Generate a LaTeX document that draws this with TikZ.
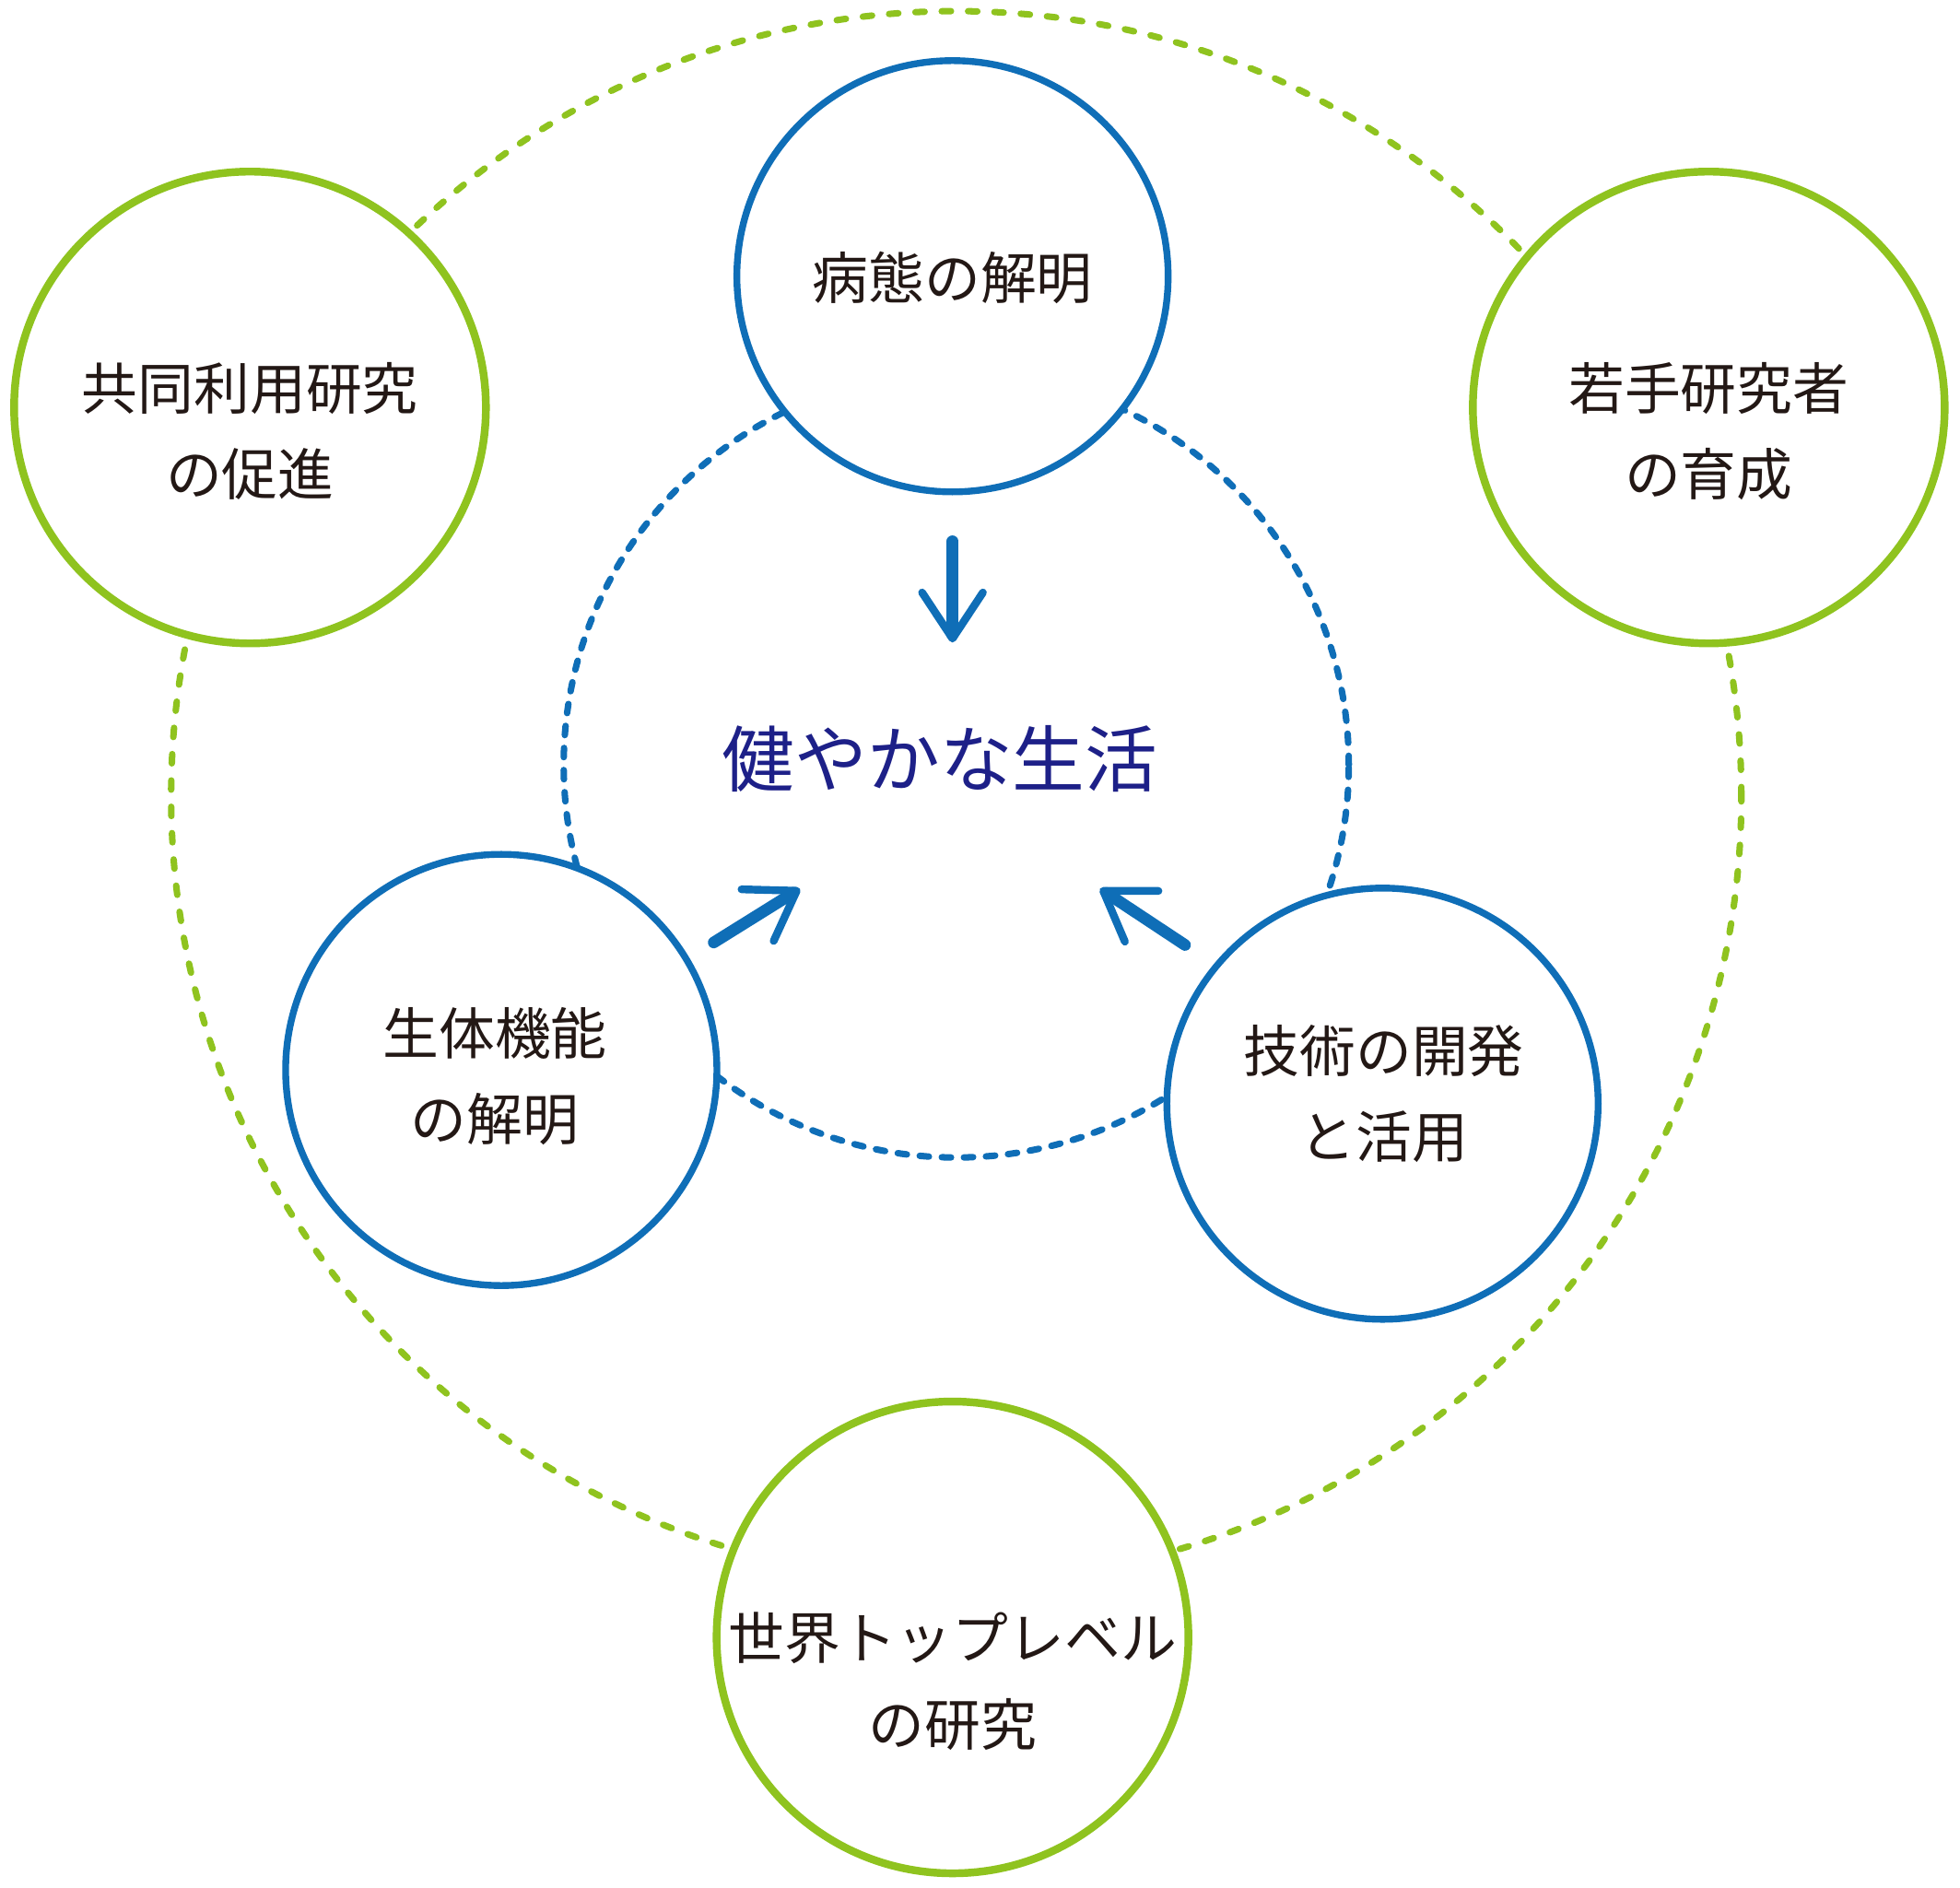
\documentclass[tikz,border=0pt]{standalone}
\usepackage{fontspec}
\usepackage{xcolor}
\usepackage{tikz}
\usetikzlibrary{arrows.meta}
\newfontfamily\jpfont{Noto Sans CJK JP}
\definecolor{leaf}{HTML}{8FC31F}
\definecolor{sea}{HTML}{0F6EB7}
\definecolor{deepblue}{HTML}{1D2088}
\definecolor{ink}{HTML}{231815}

\begin{document}
\begin{tikzpicture}[
  x=0.0135654cm, y=-0.0135654cm,
  font=\jpfont\fontsize{17.3pt}{26.6pt}\selectfont,
  outer/.style={circle, draw=leaf, line width=2.4pt, fill=white, minimum size=5.12cm, inner sep=0pt},
  inner/.style={circle, draw=sea, line width=2.1pt, fill=white, minimum size=4.68cm, inner sep=0pt},
  caption/.style={text=ink, align=center, inner sep=0pt},
  flow/.style={draw=sea, line width=3.6pt, line cap=round, -{Straight Barb[length=5mm, width=6.6mm, line width=2.4pt, round]}}
]
\useasboundingbox (0,0) rectangle (1568,1510);
\draw[leaf, line width=2pt, line cap=round, dash pattern=on 0.10cm off 0.186cm] (765,637) circle[radius=8.52cm];
\draw[sea, line width=2pt, line cap=round, dash pattern=on 0.10cm off 0.14cm] (765,612) circle[radius=4.26cm];

\node[outer] (joint) at (200,326) {};
\node[outer] (young) at (1367,326) {};
\node[outer] (world) at (762,1310) {};
\node[inner] (disease) at (762,221) {};
\node[inner] (body) at (401,856) {};
\node[inner] (tech) at (1106,883) {};

\node[caption] (jointtext) at (200,345) {共同利用研究\\の促進};
\node[caption] (youngtext) at (1367,345) {若手研究者\\の育成};
\node[caption] (worldtext) at (762,1345) {世界トップレベル\\の研究};
\node[caption] (diseasetext) at (762,222) {病態の解明};
\node[caption] (bodytext) at (396,861) {生体機能\\の解明};
\node[caption] (techtext) at (1107,875) {技術の開発\\と活用};
\node[caption, text=deepblue, font=\jpfont\fontsize{22.4pt}{28pt}\selectfont] (life) at (752,607) {健やかな生活};

\coordinate (downfrom) at (762,433);
\coordinate (downto) at (762,514);
\coordinate (leftfrom) at (571,754);
\coordinate (leftto) at (640,711);
\coordinate (rightfrom) at (948,756);
\coordinate (rightto) at (880,711);
\draw[flow] (downfrom) -- (downto);
\draw[flow] (leftfrom) -- (leftto);
\draw[flow] (rightfrom) -- (rightto);
\end{tikzpicture}
\end{document}
